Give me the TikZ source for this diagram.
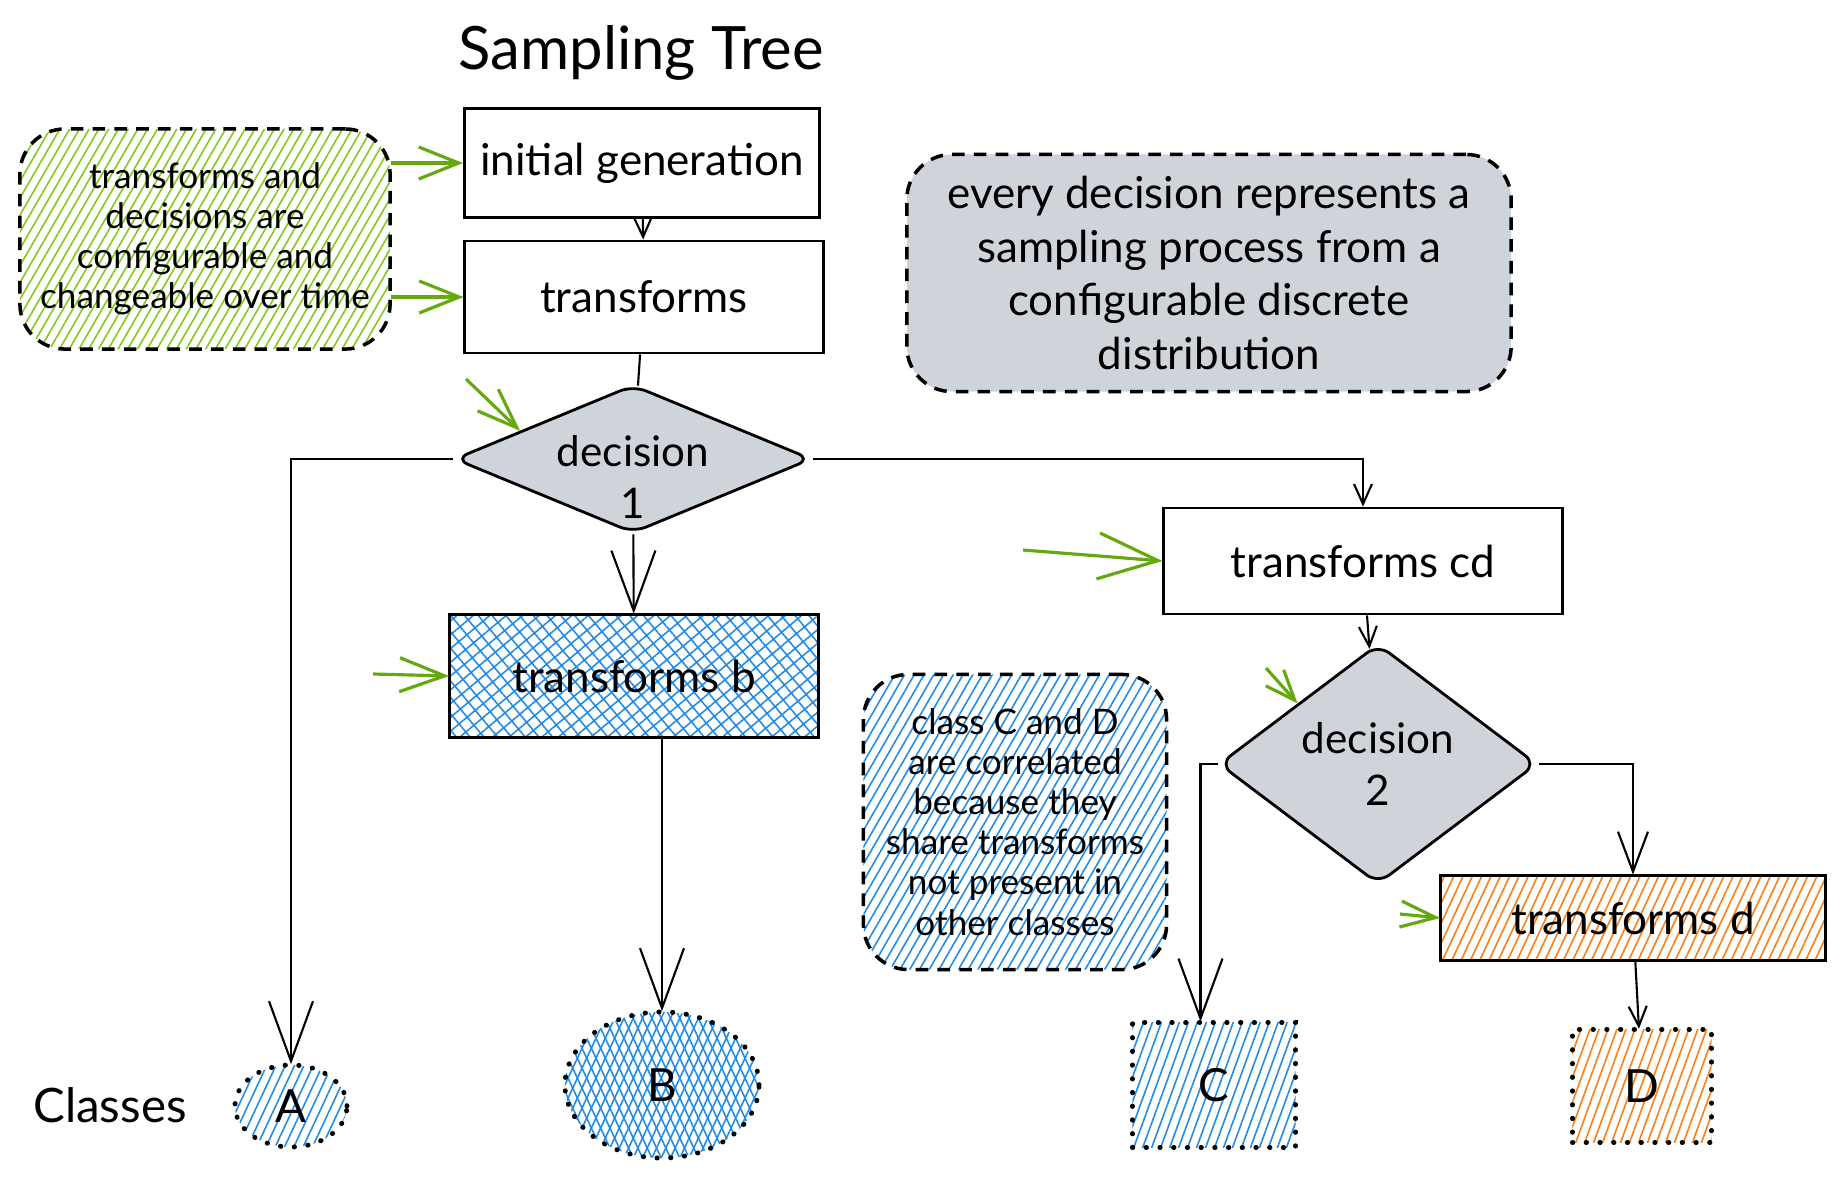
\documentclass[tikz,border=0pt]{standalone}
\usepackage{fontspec}
\setmainfont{Lato}
\usetikzlibrary{positioning,shapes.geometric,arrows.meta,patterns.meta}

\definecolor{hintgreen}{HTML}{66A80F}
\definecolor{notegreen}{HTML}{82C91E}
\definecolor{classblue}{HTML}{228BE6}
\definecolor{classorange}{HTML}{FD7E14}
\definecolor{decgray}{HTML}{CED4DA}

\tikzset{
	stage/.style={draw, line width=0.8pt, align=center, font=\fontsize{12.5}{15}\selectfont},
	decision/.style={diamond, draw, fill=decgray, line width=0.8pt, rounded corners=4pt, inner sep=0pt, align=center, font=\fontsize{12}{15}\selectfont},
	note/.style={rounded corners=0.45cm, align=center, postaction={draw, line width=1pt, dash pattern=on 3.6pt off 2.6pt}},
	classbox/.style={inner sep=0pt, font=\fontsize{13}{15}\selectfont, postaction={draw, line width=1.4pt, dash pattern=on 0.1pt off 3.8pt, line cap=round}},
	hatch/.style={pattern={Lines[angle=#1, distance=2.4pt, line width=0.45pt]}},
	flow/.style={line width=0.6pt},
	bigtip/.style={-{Straight Barb[length=6mm, width=4.4mm]}},
	midtip/.style={-{Straight Barb[length=4mm, width=3mm]}},
	smalltip/.style={-{Straight Barb[length=2mm, width=1.8mm]}},
	hint/.style={hintgreen, line width=0.9pt},
	hinttip/.style 2 args={-{Straight Barb[length=#1, width=#2]}}
}

\begin{document}
\begin{tikzpicture}[x=0.01cm, y=-0.01cm]
	\useasboundingbox (0,0) rectangle (1844,1178);

	% Title:
	\node[font=\fontsize{17}{20}\selectfont] (title) at (641,53) {Sampling Tree};

	% Stages:
	\node[stage, minimum width=3.55cm, minimum height=1.09cm] (initgen) at (642,163) {initial generation};
	\node[stage, minimum width=3.58cm, minimum height=1.12cm] (trans) at (644,297) {transforms};
	\node[decision, aspect=2.4, minimum width=3.57cm, minimum height=1.48cm] (dec1) at (633,459)
		{\raisebox{-9.5pt}[0pt][0pt]{\begin{tabular}{@{}c@{}}decision\\1\end{tabular}}};
	\node[stage, minimum width=3.98cm, minimum height=1.06cm] (tcd) at (1363,561) {transforms cd};
	\node[stage, minimum width=3.68cm, minimum height=1.23cm, pattern={Hatch[angle=40, distance=3pt, line width=0.45pt]}, pattern color=classblue] (tb) at (634,676) {transforms b};
	\node[decision, aspect=1.33, minimum width=3.18cm, minimum height=2.40cm] (dec2) at (1378,764) {decision\\2};
	\node[stage, minimum width=3.84cm, minimum height=0.85cm, hatch=65, pattern color=classorange] (td) at (1633,918) {transforms d};

	% Notes:
	\node[note, minimum width=3.70cm, minimum height=2.20cm, hatch=60, pattern color=notegreen, font=\fontsize{10}{11.4}\selectfont] (cfgnote) at (205,239) {transforms and\\decisions are\\configurable and\\changeable over time};
	\node[note, fill=decgray, minimum width=6.04cm, minimum height=2.37cm, font=\fontsize{12.5}{15.3}\selectfont] (samplenote) at (1209,273) {every decision represents a\\sampling process from a\\configurable discrete\\distribution};
	\node[note, minimum width=3.03cm, minimum height=2.95cm, hatch=60, pattern color=classblue, font=\fontsize{10}{11.4}\selectfont] (corrnote) at (1015,822) {class C and D\\are correlated\\because they\\share transforms\\not present in\\other classes};

	% Classes:
	\node[font=\fontsize{13.5}{15}\selectfont] (classes) at (110,1105) {Classes};
	\node[classbox, ellipse, minimum width=1.12cm, minimum height=0.82cm, hatch=65, pattern color=classblue] (clsA) at (291,1106) {A};
	\node[classbox, ellipse, minimum width=1.94cm, minimum height=1.46cm, hatch=65, pattern color=classblue, preaction={hatch=115, pattern color=classblue}] (clsB) at (662,1085) {B};
	\node[classbox, minimum width=1.63cm, minimum height=1.25cm, hatch=70, pattern color=classblue] (clsC) at (1214,1085) {C};
	\node[classbox, minimum width=1.39cm, minimum height=1.13cm, hatch=70, pattern color=classorange] (clsD) at (1642,1086) {D};

	% Lines:
	\draw[flow, smalltip] (initgen) -- (trans);
	\draw[flow] (trans) -- (dec1);
	\draw[flow, bigtip] (dec1) -- (tb);
	\draw[flow, bigtip] (dec1.west) -| (clsA.north);
	\draw[flow, smalltip] (dec1.east) -| (tcd.north);
	\draw[flow, bigtip] (clsB.north |- tb.south) -- (clsB.north);
	\draw[flow, smalltip] (tcd) -- (dec2);
	\draw[flow, bigtip] (dec2.west) -- ++(-17,0) coordinate (dec2left) -- (dec2left |- clsC.north);
	\draw[flow, midtip] (dec2.east) -| (td.north);
	\draw[flow, smalltip] (td) -- (clsD);

	% Hints:
	\coordinate (hintdec1) at (466,379);
	\coordinate (hinttb) at (373,674);
	\coordinate (hintcd) at (1023,550);
	\coordinate (hintdec2) at (1266,668);
	\coordinate (hinttd) at (1400,914);
	\draw[hint, hinttip={4mm}{3.2mm}] (cfgnote.east |- initgen.west) -- (initgen.west);
	\draw[hint, hinttip={4mm}{3.2mm}] (cfgnote.east |- trans.west) -- (trans.west);
	\draw[hint, hinttip={4mm}{3mm}] (hintdec1) -- (dec1.166);
	\draw[hint, hinttip={4.5mm}{3.4mm}] (hinttb) -- (tb.west);
	\draw[hint, hinttip={6mm}{4.6mm}] (hintcd) -- (tcd.west);
	\draw[hint, hinttip={3mm}{2.4mm}] (hintdec2) -- (dec2.143);
	\draw[hint, hinttip={3.5mm}{2.6mm}] (hinttd) -- (td.west);

\end{tikzpicture}
\end{document}
